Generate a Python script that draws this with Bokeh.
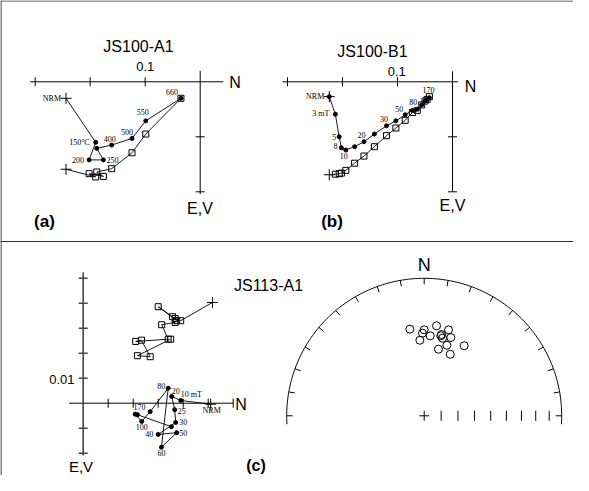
import numpy as np
from bokeh.plotting import figure
from bokeh.models import Range1d
from bokeh.core.properties import value
from bokeh.embed import file_html
from bokeh.resources import INLINE

# ------------------------------------------------------------------ data
# (a) JS100-A1 thermal demagnetisation: N, E (horizontal, dots), V (vertical, squares)
a_steps = ["NRM", "150°C", "200", "250", "", "400", "500", "550", "660"]
a_n = [-0.244, -0.190, -0.202, -0.176, -0.188, -0.161, -0.124, -0.099, -0.035]
a_e = [0.030, 0.110, 0.142, 0.142, 0.121, 0.115, 0.103, 0.071, 0.030]
a_v = [0.159, 0.173, 0.167, 0.172, 0.164, 0.158, 0.129, 0.095, 0.030]

# (b) JS100-B1 AF demagnetisation
b_steps = ["NRM", "3 mT", "5", "8", "10", "", "20", "", "30", "", "50", "", "80", "", "", "", "170"]
b_n = [-0.224, -0.213, -0.206, -0.202, -0.194, -0.178, -0.161, -0.142, -0.120, -0.103,
       -0.086, -0.073, -0.064, -0.056, -0.050, -0.046, -0.042]
b_e = [0.027, 0.059, 0.100, 0.120, 0.124, 0.118, 0.109, 0.095, 0.080, 0.071,
       0.060, 0.052, 0.050, 0.042, 0.035, 0.032, 0.029]
b_v = [0.169, 0.168, 0.167, 0.166, 0.161, 0.148, 0.135, 0.118, 0.098, 0.084,
       0.070, 0.056, 0.052, 0.042, 0.035, 0.032, 0.027]

# (c) JS113-A1 AF demagnetisation
c_steps = ["NRM", "10 mT", "20", "25", "30", "40", "50", "60", "80", "", "100", "", "170", ""]
c_n_h = [0.0510, 0.0390, 0.0354, 0.0366, 0.0370, 0.0300, 0.0374, 0.0313, 0.0340, 0.0268,
         0.0234, 0.0208, 0.0217, 0.0353]
c_e = [0.0004, -0.0011, -0.0027, 0.0026, 0.0077, 0.0125, 0.0118, 0.0176, -0.0060, 0.0034,
       0.0073, 0.0044, 0.0046, 0.0094]
c_n_v = [0.0517, 0.0390, 0.0368, 0.0357, 0.0300, 0.0374, 0.0368, 0.0314, 0.0340, 0.0210,
         0.0233, 0.0268, 0.0217, 0.0350]
c_v = [-0.0403, -0.0330, -0.0339, -0.0346, -0.0386, -0.0330, -0.0323, -0.0314, -0.0256,
       -0.0247, -0.0252, -0.0186, -0.0190, -0.0256]

# stereonet directions (declination, inclination)
s_dec = [350.6, 0.0, 358.8, 356.7, 7.8, 4.3, 15.8, 11.7, 13.3, 18.8, 12.0, 12.1, 17.8, 22.9, 29.7]
s_inc = [36.3, 37.5, 39.7, 44.2, 34.3, 41.3, 35.3, 40.3, 41.6, 39.7, 39.4, 49.0, 45.2, 49.8, 41.0]

# axis ticks
ab_xticks = [-0.3, -0.2, -0.1]
ab_yticks = [0.1, 0.2]
ab_xlabel = "0.1"
c_xticks = [0.01, 0.02, 0.03, 0.04, 0.05, 0.06]
c_yticks = [-0.05, -0.04, -0.03, -0.02, -0.01, 0.01, 0.02]
c_ylabel = "0.01"
net_az_ticks = list(range(-90, 91, 10))
net_inc_ticks = [80, 70, 60, 50, 40, 30, 20, 10]

# ------------------------------------------------------------------ layout
W, H = 573, 475
X0, Y0 = 8, 8
SANS = value("Liberation Sans")
SERIF = value("Liberation Serif")

p = figure(width=W, height=H, x_range=Range1d(X0, X0 + W), y_range=Range1d(Y0 + H, Y0),
           x_axis_type=None, y_axis_type=None, output_backend="svg",
           toolbar_location=None, min_border=0)
p.outline_line_color = None
p.background_fill_color = "white"
p.styles = {"margin-bottom": "-16px"}

# panel origins (page px) and scales (px per unit)
PANELS = {
    "a": (207.7, 89.3, 550.0),
    "b": (460.0, 89.3, 550.0),
    "c": (90.7, 410.7, 2500.0),
}
NET = (431.7, 423.3, 137.5)

xr, yr = {}, {}
for k, (ox, oy, s) in PANELS.items():
    xr[k + "x"] = Range1d((X0 - ox) / s, (X0 + W - ox) / s)
    yr[k + "y"] = Range1d((Y0 + H - oy) / s, (Y0 - oy) / s)   # down positive
ox, oy, R = NET
xr["sx"] = Range1d((X0 - ox) / R, (X0 + W - ox) / R)
yr["sy"] = Range1d((oy - (Y0 + H)) / R, (oy - Y0) / R)         # up positive
p.extra_x_ranges = xr
p.extra_y_ranges = yr


def zpanel(k, n_h, e, n_v, v, xt, yt, xext, yext, dot_from, vaxis_color="black", vaxis_w=1.0):
    s = PANELS[k][2]
    kw = dict(x_range_name=k + "x", y_range_name=k + "y")
    p.segment(x0=[xext[0]], y0=[0], x1=[xext[1]], y1=[0], line_color="black", line_width=1, **kw)
    p.segment(x0=[0], y0=[yext[0]], x1=[0], y1=[yext[1]], line_color=vaxis_color,
              line_width=vaxis_w, **kw)
    t = 4.5 / s
    p.segment(x0=xt, y0=[-t] * len(xt), x1=xt, y1=[t] * len(xt), line_color="black", **kw)
    p.segment(x0=[-t] * len(yt), y0=yt, x1=[t] * len(yt), y1=yt, line_color=vaxis_color,
              line_width=vaxis_w, **kw)
    p.line(n_v, v, line_color="black", line_width=0.9, **kw)
    p.line(n_h, e, line_color="black", line_width=0.9, **kw)
    p.scatter(n_v[1:], v[1:], marker="square", size=6, fill_color=None,
              line_color="black", line_width=1, **kw)
    p.scatter(n_h[dot_from:], e[dot_from:], marker="circle", size=4,
              fill_color="black", line_color="black", **kw)
    p.scatter([n_h[0], n_v[0]], [e[0], v[0]], marker="cross", size=11,
              line_color="black", line_width=1, **kw)


def step_labels(k, n, e, steps, offs):
    s = PANELS[k][2]
    kw = dict(x_range_name=k + "x", y_range_name=k + "y")
    groups = {}
    for i, (dx, dy, al) in offs.items():
        if not steps[i]:
            continue
        g = groups.setdefault(al, ([], [], []))
        g[0].append(n[i] + dx / s)
        g[1].append(e[i] + dy / s)
        g[2].append(steps[i])
    for al, (xs, ys, ts) in groups.items():
        p.text(x=xs, y=ys, text=ts, text_align=al, text_baseline="middle",
               text_font=SERIF, text_font_size="8px", text_color="black", **kw)


# ---- (a)
zpanel("a", a_n, a_e, a_n, a_v, ab_xticks, ab_yticks, (-0.309, 0.042), (-0.020, 0.204), 1)
step_labels("a", a_n, a_e, a_steps, {
    0: (-5, 0, "right"), 1: (-6, 0, "right"), 2: (-5, 0, "right"), 3: (3, 0, "left"),
    5: (-2, -6, "center"), 6: (-5, -6, "center"), 7: (-3, -9, "center"), 8: (-9, -6, "center")})

# ---- (b)
zpanel("b", b_n, b_e, b_n, b_v, ab_xticks, ab_yticks, (-0.309, 0.010), (-0.019, 0.200), 0)
step_labels("b", b_n, b_e, b_steps, {
    0: (-5, 0, "right"), 1: (-6, -1, "right"), 2: (-3, 0, "right"), 3: (-4, -2, "right"),
    4: (-2, 6, "center"), 6: (-2.5, -7, "center"), 8: (-2.5, -7, "center"),
    10: (-6, -6, "center"), 12: (-4, -7, "center"), 16: (-1, -8, "center")})

# ---- (c)
zpanel("c", c_n_h, c_e, c_n_v, c_v, c_xticks, c_yticks, (-0.0056, 0.0601), (-0.0523, 0.0209), 1,
       vaxis_color="#444444", vaxis_w=1.6)
step_labels("c", c_n_h, c_e, c_steps, {
    0: (1, 6, "center"), 1: (0, -5.5, "left"), 2: (0, -5, "left"), 3: (3, 1, "left"),
    4: (3.5, 0, "left"), 5: (-5, 0, "right"), 6: (2.5, 0, "left"), 7: (0, 6, "center"),
    8: (-3, -2.5, "right"), 10: (0, 6, "center"), 12: (2, -8, "center")})

# ---- stereonet
kw = dict(x_range_name="sx", y_range_name="sy")
th = np.radians(np.linspace(-3.5, 183.5, 240))
p.line(np.cos(th), np.sin(th), line_color="black", line_width=1, **kw)
az = np.radians(net_az_ticks)
tl = 6.0 / R
p.segment(x0=np.sin(az), y0=np.cos(az), x1=np.sin(az) * (1 - tl), y1=np.cos(az) * (1 - tl),
          line_color="black", line_width=1, **kw)
rt = np.sqrt(2) * np.sin(np.radians((90 - np.array(net_inc_ticks)) / 2))
p.scatter(rt, np.zeros_like(rt), marker="dash", angle=np.pi / 2, size=10,
          line_color="black", line_width=1, **kw)
p.scatter([0], [0], marker="cross", size=10, line_color="black", line_width=1, **kw)
dec = np.radians(s_dec)
rr = np.sqrt(2) * np.sin(np.radians((90 - np.abs(np.array(s_inc))) / 2))
p.scatter(rr * np.sin(dec), rr * np.cos(dec), marker="circle", size=8, fill_color=None,
          line_color="black", line_width=1, **kw)

# ---- frame
p.segment(x0=[X0, X0 + 0.5, X0], y0=[Y0 + 0.5, Y0, 249], x1=[X0 + W, X0 + 0.5, X0 + W],
          y1=[Y0 + 0.5, Y0 + H, 249], line_color="#333333", line_width=1.2)


def txt(x, y, t, size, align="center", style="normal", font=SANS):
    p.text(x=[x], y=[y], text=[t], text_align=align, text_baseline="middle",
           text_font=font, text_font_size=size, text_font_style=style, text_color="black")


txt(146, 53.5, "JS100-A1", "16px")
txt(152.7, 73.5, ab_xlabel, "13px")
txt(242.5, 89.5, "N", "16px")
txt(207.5, 216, "E,V", "16px")
txt(52, 229, "(a)", "17px", style="bold")

txt(380, 58.5, "JS100-B1", "16px")
txt(404.3, 79, ab_xlabel, "13px")
txt(478, 94, "N", "16px")
txt(460, 213, "E,V", "16px")
txt(339.5, 229, "(b)", "17px", style="bold")

txt(276, 293, "JS113-A1", "16px")
txt(82, 386.5, c_ylabel, "13px", align="right")
txt(248.5, 412, "N", "16px")
txt(88.5, 473.5, "E,V", "15px")
txt(263.5, 473, "(c)", "16px", style="bold")
txt(431.7, 272, "N", "18px")

open("out.html", "w").write(file_html(p, INLINE))
